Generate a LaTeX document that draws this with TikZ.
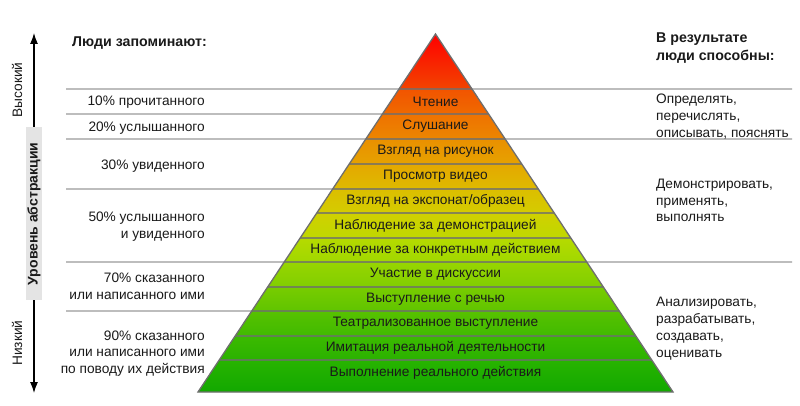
\documentclass[tikz,border=0pt]{standalone}
\usepackage{fontspec}
\setmainfont{Liberation Sans}
\usetikzlibrary{calc,arrows.meta}
\definecolor{txt}{HTML}{1A1A1A}
\definecolor{rule}{HTML}{9A9A9A}
\definecolor{edge}{HTML}{6E6E6E}
\definecolor{axisbox}{HTML}{E4E4E4}
\begin{document}
\begin{tikzpicture}[x=1pt,y=-1pt,
  lbl/.style={font=\fontsize{13.7}{16.8}\selectfont, text=txt, inner sep=0pt},
  hdr/.style={font=\fontsize{14.2}{18.4}\selectfont\bfseries, text=txt, inner sep=0pt, align=left},
  lefttxt/.style={lbl, anchor=east, align=right},
  righttxt/.style={lbl, anchor=west, align=left},
  gline/.style={draw=rule, line width=1.3pt},
  sepline/.style={draw=edge, draw opacity=0.75, line width=1.1pt},
  outline/.style={draw=edge, line width=1.3pt, line join=miter}]
\useasboundingbox (0,0) rectangle (800,406);
\fill[white] (0,0) rectangle (800,406);
\coordinate (apex) at (435.5,34);
\coordinate (bl) at (198,392);
\coordinate (br) at (673,392);
% bands
\foreach \ya/\yb/\ca/\cb in {34/89/FF0000/F24400, 89/114/F25400/EF6A00, 114/139/EF7200/EC8600,
  139/164/EA9000/E6A200, 164/189/E4A800/DEBA00, 189/213/DCBE00/D4CC00, 213/238/D0D000/C0D800,
  238/262/B6DA00/A0D800, 262/287/98D600/80CE00, 287/311/78CC00/60C400, 311/336/58C200/40BA00,
  336/360/3CBA00/2AB200, 360/392/28B400/12A800} {
  \definecolor{ctop}{HTML}{\ca}
  \definecolor{cbot}{HTML}{\cb}
  \shade[top color=ctop, bottom color=cbot]
    ($(apex)!{(\ya-34)/358}!(bl)$) -- ($(apex)!{(\yb-34)/358}!(bl)$) --
    ($(apex)!{(\yb-34)/358}!(br)$) -- ($(apex)!{(\ya-34)/358}!(br)$) -- cycle;
}
% inner separators
\foreach \y in {89,114,139,164,189,213,238,262,287,311,336,360} {
  \draw[sepline] ($(apex)!{(\y-34)/358}!(bl)$) -- ($(apex)!{(\y-34)/358}!(br)$);
}
% left rules
\foreach \y in {89,114,139,189,262,311} {
  \draw[gline] (66,\y) -- ($(apex)!{(\y-34)/358}!(bl)$);
}
% right rules
\foreach \y in {89,139,262} {
  \draw[gline] ($(apex)!{(\y-34)/358}!(br)$) -- (792,\y);
}
\draw[outline] (apex) -- (bl) -- (br) -- cycle;

% pyramid texts
\node[lbl] (p1) at (435.5,101.5) {Чтение};
\node[lbl] (p2) at (435.5,126.5) {Слушание};
\node[lbl] (p3) at (435.5,151.5) {Взгляд на рисунок};
\node[lbl] (p4) at (435.5,176.5) {Просмотр видео};
\node[lbl] (p5) at (435.5,201) {Взгляд на экспонат/образец};
\node[lbl] (p6) at (435.5,225.5) {Наблюдение за демонстрацией};
\node[lbl] (p7) at (435.5,250) {Наблюдение за конкретным действием};
\node[lbl] (p8) at (435.5,274.5) {Участие в дискуссии};
\node[lbl] (p9) at (435.5,299) {Выступление с речью};
\node[lbl] (p10) at (435.5,323.5) {Театрализованное выступление};
\node[lbl] (p11) at (435.5,348) {Имитация реальной деятельности};
\node[lbl] (p12) at (435.5,373) {Выполнение реального действия};

% headers
\node[hdr, anchor=west] (hl) at (72,43.5) {Люди запоминают:};
\node[hdr, anchor=west] (hr) at (656,48) {В результате\\люди способны:};

% left texts
\node[lefttxt] (l1) at (205,102.5) {10\% прочитанного};
\node[lefttxt] (l2) at (205,128) {20\% услышанного};
\node[lefttxt] (l3) at (205,166) {30\% увиденного};
\node[lefttxt] (l4) at (205,227) {50\% услышанного\\и увиденного};
\node[lefttxt] (l5) at (205,286) {70\% сказанного\\или написанного ими};
\node[lefttxt] (l6) at (205,353.5) {90\% сказанного\\или написанного ими\\по поводу их действия};

% right texts
\node[righttxt] (r1) at (656,116.5) {Определять,\\перечислять,\\описывать, пояснять};
\node[righttxt] (r2) at (656,200.5) {Демонстрировать,\\применять,\\выполнять};
\node[righttxt] (r3) at (656,328.5) {Анализировать,\\разрабатывать,\\создавать,\\оценивать};

% axis
\coordinate (axtop) at (34,33);
\coordinate (axbot) at (34,393);
\draw[line width=1.2pt, black, {Latex[length=11pt,width=8pt]}-{Latex[length=11pt,width=8pt]}] (axbot) -- (axtop);
\fill[axisbox] (26,127) rectangle (42,300);
\node[lbl, font=\fontsize{14}{16}\selectfont\bfseries, rotate=90] (ax) at (34,214) {Уровень абстракции};
\node[lbl, rotate=90] (hi) at (17,90) {Высокий};
\node[lbl, rotate=90] (lo) at (17,343) {Низкий};
\end{tikzpicture}
\end{document}
